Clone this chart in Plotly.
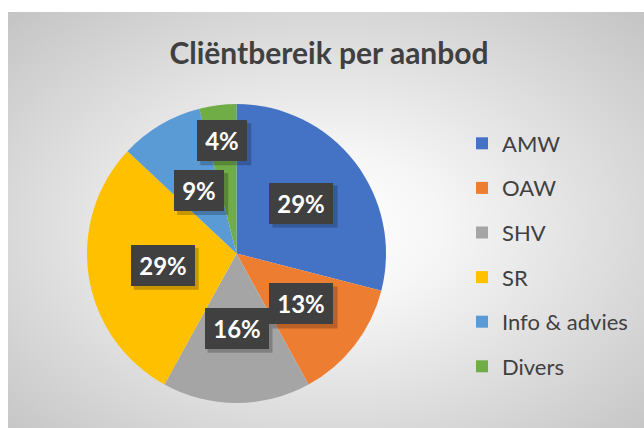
import base64
import math
import plotly.graph_objects as go

# ---- data ----
labels = ["AMW", "OAW", "SHV", "SR", "Info & advies", "Divers"]
values = [29, 13, 16, 29, 9, 4]
colors = ["#4472C4", "#ED7D31", "#A5A5A5", "#FFC000", "#5B9BD5", "#70AD47"]
title_text = "Cliëntbereik per aanbod"

# label placement (fraction of radius from centre, style only)
label_radius = [0.55, 0.55, 0.50, 0.50, 0.49, 0.76]

W, H = 644, 428
# pie domain in pixels
pie_x0, pie_x1 = 87, 386
pie_y0, pie_y1 = 104, 403

fig = go.Figure()
fig.add_trace(go.Pie(
    labels=[f'<span style="font-size:22px;baseline-shift:4px">{l}</span>' for l in labels],
    values=values,
    marker=dict(colors=colors, line=dict(width=0)),
    sort=False,
    direction="clockwise",
    rotation=0,
    textinfo="none",
    hoverinfo="percent",
    domain=dict(x=[pie_x0 / W, pie_x1 / W], y=[1 - pie_y1 / H, 1 - pie_y0 / H]),
))

# data labels as boxed annotations computed from slice angles
total = sum(values)
cx = (pie_x0 + pie_x1) / 2
cy = (pie_y0 + pie_y1) / 2
R = (pie_x1 - pie_x0) / 2
cum = 0
annotations = []
shapes = []
for v, f in zip(values, label_radius):
    mid = (cum + v / 2) / total
    cum += v
    th = 2 * math.pi * mid
    px = cx + f * R * math.sin(th)
    py = cy - f * R * math.cos(th)
    txt = f"{round(v / total * 100)}%"
    w = 14 * len(txt) + 8
    bw, bh = w + 14, 41
    # soft drop shadow behind the label box
    shapes.append(dict(type="rect", xref="paper", yref="paper",
                       xsizemode="pixel", ysizemode="pixel",
                       xanchor=px / W, yanchor=1 - py / H,
                       x0=-bw / 2 + 3, x1=bw / 2 + 4, y0=-bh / 2 - 4, y1=bh / 2 - 3,
                       fillcolor="rgba(0,0,0,0.22)", line=dict(width=0), layer="above"))
    annotations.append(dict(text=txt, x=px / W, y=1 - py / H, xref="paper", yref="paper",
                            xanchor="center", yanchor="middle",
                            showarrow=False, width=w, height=27, borderpad=7, borderwidth=0,
                            bgcolor="#404040",
                            font=dict(family="Lato", size=24, color="white", weight="bold")))

# background radial gradient card
svg = ('<svg xmlns="http://www.w3.org/2000/svg" width="636" height="416" viewBox="0 0 636 416" '
       'preserveAspectRatio="none"><defs><radialGradient id="g" cx="50%" cy="52%" r="72%">'
       '<stop offset="0" stop-color="#ffffff"/><stop offset="0.25" stop-color="#f6f6f6"/>'
       '<stop offset="1" stop-color="#c4c4c4"/></radialGradient></defs>'
       '<rect width="636" height="416" fill="url(#g)"/></svg>')
src = "data:image/svg+xml;base64," + base64.b64encode(svg.encode()).decode()

fig.update_layout(
    width=W, height=H,
    margin=dict(l=0, r=0, t=0, b=0),
    paper_bgcolor="white",
    plot_bgcolor="rgba(0,0,0,0)",
    images=[dict(source=src, xref="paper", yref="paper", x=8 / W, y=1 - 12 / H,
                 sizex=636 / W, sizey=416 / H, xanchor="left", yanchor="top",
                 sizing="stretch", layer="below")],
    title=dict(text=title_text, x=329 / W, y=1 - 53 / H, xanchor="center", yanchor="middle",
               font=dict(family="Lato", size=30, color="#404040", weight="bold")),
    legend=dict(x=462 / W, y=1 - 116 / H, xanchor="left", yanchor="top",
                bgcolor="rgba(0,0,0,0)", font=dict(family="Lato", size=32, color="#404040")),
    annotations=annotations,
    shapes=shapes,
    showlegend=True,
)

fig.write_html("out.html", config={"displayModeBar": False},
               post_script="document.body.style.margin='0';")
